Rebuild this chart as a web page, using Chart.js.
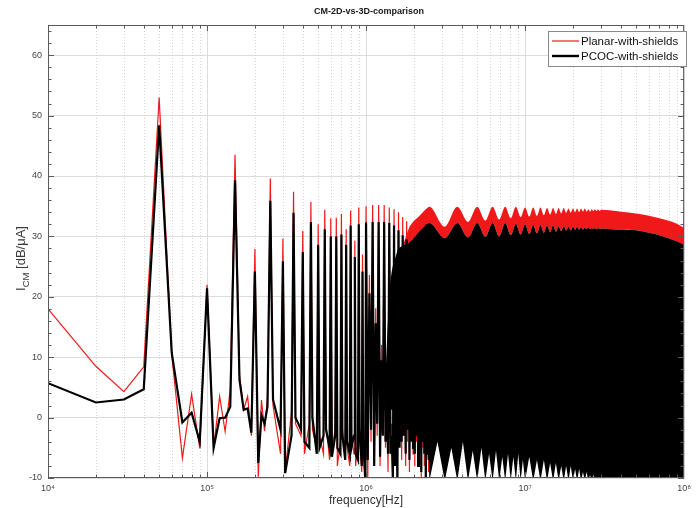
<!DOCTYPE html>
<html>
<head>
<meta charset="utf-8">
<script src="https://cdn.jsdelivr.net/npm/chart.js@4.4.1/dist/chart.umd.min.js"></script>
<style>
  html, body { margin: 0; padding: 0; background: #fff; }
  #wrap { width: 696px; height: 508px; }
</style>
</head>
<body>
<div id="wrap"><canvas id="chart" width="696" height="508"></canvas></div>
<script>
// harmonic part, frequency in kHz (peaks every 50 kHz, lows in between)
const lowFreqKHz = [
  10, 20, 30, 40, 50, 60, 70, 80, 90, 100, 110, 120, 130, 140, 150, 160, 170, 180, 190, 200, 210, 220, 230, 240,
  250, 260, 290, 300, 310, 340, 350, 360, 390, 400, 410, 440, 450, 460, 490, 500, 510, 540,
  550, 560, 590, 600, 610, 640, 650, 660, 690, 700, 710, 740, 750, 760, 790, 800, 810, 840,
  850, 860, 890, 900, 910, 940, 950, 960, 990, 1000,
  1025, 1050, 1075, 1100, 1125, 1150, 1175, 1200, 1225, 1250, 1275, 1300, 1325, 1350, 1375, 1400,
  1425, 1450, 1475, 1500, 1525, 1550, 1575, 1600, 1625, 1650, 1675, 1700, 1725, 1750, 1775, 1800,
  1825, 1850, 1875, 1900, 1925, 1950, 1975, 2000, 2025, 2050, 2075, 2100, 2125, 2150, 2175, 2200,
  2225, 2250, 2275, 2300, 2325, 2350, 2375, 2400, 2425, 2450, 2475, 2500
];
const planarLow = [
  18, 8.5, 4.3, 8.4, 53, 10.5, -6.7, 3.9, -5.1, 22, -5, 3.5, -2.3, 4.6, 43.5, 7, 1.3, 3.5, -3, 27.9, -9.8, 2.9, -2.2, 3.3,
  39.6, 2, -6, 29.6, -9, 1, 37.4, -1, -3, 30.9, -6, -1, 35.7, -2, -5, 32, -3, -6,
  34.4, -1, -7, 33, -5, -2, 33.1, -8, -4, 33.7, -2, -6, 31.2, -5, -8, 34.3, -3, -6,
  29.3, -8, -4, 34.8, -3, -9, 27, -5, -10.5, 35,
  -10.5, 23.6, -4, 35.2, -7, 18.1, -3, 35.2, -8, 12, -2, 35.2, -5, 5, -9, 34.8,
  -4, -1, -10.5, 34.5, -6, 4, -10.5, 34, -3, 11, -7, 33.2, -2, 17, -8, 32.5,
  -4, 22, -9, 31.8, -3, 26, -6, 31.2, -8, 29, -4, 31, -7, 31, -3, 32,
  -10.5, 33, -5, 33.5, -8, 34, -10.5, 34.5, -4, 34.7, -9, 34.8
];
const pcocLow = [
  5.7, 2.5, 3, 4.7, 48.4, 10.7, -0.8, 0.8, -4, 21.4, -5, -0.1, 0, 1.8, 39.3, 6.3, 1.3, 1.5, -2.5, 24.2, -7.5, 0.4, -1, 1.8,
  35.9, 3, -2, 25.9, -9.2, -3, 33.9, 0, -2, 27.4, -4, -5, 32.4, 0, -6, 28.6, -5, -3,
  31.2, -2, -5, 30, -6.5, -3, 30, -5, -6, 30.3, -3, -7, 28.6, -4, -6, 31.8, -5, -3,
  26.6, -6, -7, 32, -2, -8, 24.2, -4, -10.5, 32.3,
  -7, 20.6, -2, 32.4, -8, 15.6, -1, 32.4, -6.5, 9.5, -3, 32.4, -4, 2.5, -6, 32.2,
  -6, -3, -10.5, 31.8, -8, 1.5, -10.5, 31, -5, 8.5, -4, 30.2, -3, 14.5, -6, 29.5,
  -2, 19.5, -7, 28.8, -4, 23.5, -5, 28.5, -6, 26, -3, 28, -8, 28.5, -5, 29.5,
  -9, 30.5, -4, 31, -6, 31.5, -10.5, 32, -6, 32, -7, 32.2
];

// dense part, frequency in MHz: upper envelopes of both traces
const envFreqMHz = [
  1.3, 1.4, 1.55, 1.7, 1.875, 2.2, 2.45,
  2.5, 3.125, 3.75, 4.375, 5, 5.625, 6.25, 6.875, 7.5, 8.125, 8.75, 9.375, 10, 10.625, 11.25, 11.875,
  12.5, 13.125, 13.75, 14.375, 15, 15.625, 16.25, 16.875, 17.5, 18.125, 18.75, 19.375, 20, 20.625,
  21.25, 21.875, 22.5, 23.125, 23.75, 24.375, 25, 25.625, 26.25, 26.875, 27.5, 28.125, 28.75, 29.375, 30,
  35, 40, 50, 60, 70, 80, 90, 100
];
const planarTop = [
  1.3, 20, 27, 28.5, 31.5, 33.6, 34.8,
  34.9, 31.6, 34.9, 32.4, 34.9, 32.6, 34.9, 32.8, 34.9, 33, 34.9, 33.2, 34.8, 33.3, 34.8, 33.4,
  34.8, 33.5, 34.7, 33.6, 34.7, 33.7, 34.7, 33.8, 34.7, 33.9, 34.6, 33.9, 34.6, 34,
  34.6, 34, 34.6, 34.1, 34.6, 34.1, 34.5, 34.1, 34.5, 34.2, 34.5, 34.2, 34.5, 34.2, 34.4,
  34.3, 34.1, 33.8, 33.4, 33, 32.6, 32.1, 31.4
];
const pcocTop = [
  1.3, 20, 27, 28.5, 29, 31, 32.1,
  32.2, 29.7, 32.2, 29.8, 32.2, 29.9, 32.2, 30, 32.2, 30.2, 32.1, 30.3, 32, 30.4, 31.9, 30.5,
  31.9, 30.6, 31.8, 30.7, 31.8, 30.8, 31.7, 30.9, 31.7, 31, 31.6, 31, 31.6, 31.1,
  31.6, 31.1, 31.5, 31.1, 31.5, 31.2, 31.5, 31.2, 31.4, 31.2, 31.4, 31.2, 31.4, 31.2, 31.3,
  31.2, 31.1, 31, 30.6, 30.2, 29.7, 29.2, 28.6
];
// lower edge of the black band, MHz
const bottomFreqMHz = [
  1.3, 2.45, 2.5,
  2.8125, 3.125, 3.4375, 3.75, 4.0625, 4.375, 4.6875, 5, 5.3125, 5.625, 5.9375, 6.25,
  6.5625, 6.875, 7.1875, 7.5, 7.8125, 8.125, 8.4375, 8.75, 9.0625, 9.375, 9.6875, 10,
  10.625, 11.25, 11.875, 12.5, 13.125, 13.75, 14.375, 15, 15.625, 16.25, 16.875, 17.5, 18.125, 18.75,
  19.375, 20, 20.625, 21.25, 21.875, 22.5, 23.125, 23.75, 24.375, 25, 25.625, 26.25, 26.875, 27.5,
  30, 100
];
const pcocBottom = [
  1.3, 1.3, -10.5,
  -4, -10.5, -5, -10.5, -4, -10.5, -5.5, -10.5, -5, -10.5, -6, -10.5,
  -5.5, -10.5, -6.5, -10.5, -6, -10.5, -6.5, -10.5, -6, -10.5, -7, -10.5,
  -6.5, -10.5, -7, -10.5, -7, -10.5, -7.5, -10.5, -7.5, -10.5, -8, -10.5, -8, -10.5,
  -8, -10.5, -8.5, -10.5, -8.5, -10.5, -9, -10.5, -9, -10.5, -9.5, -10.5, -9.5, -10.5,
  -10.5, -10.5
];

const decadeTicks = [1e4, 1e5, 1e6, 1e7, 1e8];
const decadeLabels = ['10⁴', '10⁵', '10⁶', '10⁷', '10⁸'];

const RED = '#f01818';
const BLACK = '#000000';
const FONT = '"Liberation Sans", Arial, sans-serif';

const toPoints = (freqs, scale, vals) => freqs.map((f, i) => ({ x: f * scale, y: vals[i] }));

// MATLAB-like frame: dotted minor grid, inward ticks, title, legend, y label
const framePlugin = {
  id: 'frame',
  beforeDatasetsDraw(chart) {
    const { ctx, chartArea: a, scales: { x } } = chart;
    ctx.save();
    ctx.strokeStyle = '#d4d4d4';
    ctx.lineWidth = 1;
    ctx.setLineDash([1, 2]);
    for (let d = 4; d < 8; d++) {
      for (let m = 2; m <= 9; m++) {
        const px = Math.round(x.getPixelForValue(m * Math.pow(10, d))) + 0.5;
        ctx.beginPath();
        ctx.moveTo(px, a.top);
        ctx.lineTo(px, a.bottom);
        ctx.stroke();
      }
    }
    ctx.restore();
  },
  afterDraw(chart) {
    const { ctx, chartArea: a, scales: { x, y } } = chart;
    ctx.save();
    ctx.strokeStyle = '#5a5a5a';
    ctx.lineWidth = 1;
    ctx.strokeRect(a.left + 0.5, a.top + 0.5, a.right - a.left - 1, a.bottom - a.top - 1);

    const seg = (x1, y1, x2, y2) => { ctx.beginPath(); ctx.moveTo(x1, y1); ctx.lineTo(x2, y2); ctx.stroke(); };
    for (let d = 4; d < 8; d++) {
      for (let m = 1; m <= 9; m++) {
        const px = Math.round(x.getPixelForValue(m * Math.pow(10, d))) + 0.5;
        const len = m === 1 ? 6 : 3.5;
        seg(px, a.bottom, px, a.bottom - len);
        seg(px, a.top, px, a.top + len);
      }
    }
    for (let v = -10; v <= 64; v += 2) {
      const py = Math.round(y.getPixelForValue(v)) + 0.5;
      const len = v % 10 === 0 ? 6 : 3.5;
      seg(a.left, py, a.left + len, py);
      seg(a.right, py, a.right - len, py);
    }

    // title
    ctx.fillStyle = '#1a1a1a';
    ctx.font = 'bold 9px ' + FONT;
    ctx.textAlign = 'center';
    ctx.textBaseline = 'middle';
    ctx.fillText('CM-2D-vs-3D-comparison', (a.left + a.right) / 2 + 3, 12);

    // y axis label with subscript
    ctx.save();
    ctx.translate(25, (a.top + a.bottom) / 2 + 7);
    ctx.rotate(-Math.PI / 2);
    ctx.textAlign = 'left';
    ctx.textBaseline = 'alphabetic';
    ctx.fillStyle = '#3a3a3a';
    const big = '13px ' + FONT, small = '9.5px ' + FONT;
    ctx.font = big; const w1 = ctx.measureText('I').width;
    ctx.font = small; const w2 = ctx.measureText('CM').width;
    ctx.font = big; const w3 = ctx.measureText(' [dB/μA]').width;
    let cx = -(w1 + w2 + w3) / 2;
    ctx.font = big; ctx.fillText('I', cx, 0); cx += w1;
    ctx.font = small; ctx.fillText('CM', cx, 3.5); cx += w2;
    ctx.font = big; ctx.fillText(' [dB/μA]', cx, 0);
    ctx.restore();

    // legend
    const lx = 548, ly = 31, lw = 138, lh = 35;
    ctx.fillStyle = '#fff';
    ctx.fillRect(lx, ly, lw, lh);
    ctx.strokeStyle = '#8a8a8a';
    ctx.strokeRect(lx + 0.5, ly + 0.5, lw, lh);
    const entries = [
      { label: 'Planar-with-shields', color: RED, width: 1.2, yy: ly + 10 },
      { label: 'PCOC-with-shields', color: BLACK, width: 2.4, yy: ly + 25 }
    ];
    ctx.font = '11.5px ' + FONT;
    ctx.textAlign = 'left';
    ctx.textBaseline = 'middle';
    entries.forEach(e => {
      ctx.strokeStyle = e.color;
      ctx.lineWidth = e.width;
      seg(lx + 4, e.yy, lx + 31, e.yy);
      ctx.fillStyle = '#111';
      ctx.fillText(e.label, lx + 33, e.yy + 0.5);
    });
    ctx.restore();
  }
};

new Chart(document.getElementById('chart'), {
  type: 'line',
  data: {
    datasets: [
      {
        label: 'Planar-with-shields',
        data: toPoints(lowFreqKHz, 1e3, planarLow),
        borderColor: RED,
        borderWidth: 1.2,
        pointRadius: 0,
        tension: 0,
        fill: false,
        order: 4
      },
      {
        label: 'planar-envelope',
        data: toPoints(envFreqMHz, 1e6, planarTop),
        borderColor: RED,
        borderWidth: 0,
        backgroundColor: RED,
        pointRadius: 0,
        cubicInterpolationMode: 'monotone',
        fill: '+1',
        order: 3
      },
      {
        label: 'pcoc-envelope',
        data: toPoints(envFreqMHz, 1e6, pcocTop),
        borderColor: BLACK,
        borderWidth: 0,
        backgroundColor: BLACK,
        pointRadius: 0,
        cubicInterpolationMode: 'monotone',
        fill: '+1',
        order: 2
      },
      {
        label: 'pcoc-bottom',
        data: toPoints(bottomFreqMHz, 1e6, pcocBottom),
        borderColor: BLACK,
        borderWidth: 0,
        pointRadius: 0,
        tension: 0,
        fill: false,
        order: 2
      },
      {
        label: 'PCOC-with-shields',
        data: toPoints(lowFreqKHz, 1e3, pcocLow),
        borderColor: BLACK,
        borderWidth: 2.2,
        pointRadius: 0,
        tension: 0,
        fill: false,
        order: 1
      }
    ]
  },
  options: {
    responsive: false,
    animation: false,
    events: [],
    layout: { padding: { top: 25, right: 6, left: 0, bottom: 0 } },
    plugins: {
      legend: { display: false },
      tooltip: { enabled: false },
      title: { display: false }
    },
    scales: {
      x: {
        type: 'logarithmic',
        min: 1e4,
        max: 1e8,
        afterFit: s => { s.height = 30; },
        afterBuildTicks: s => { s.ticks = decadeTicks.map(v => ({ value: v })); },
        ticks: {
          autoSkip: false,
          maxRotation: 0,
          padding: 5,
          color: '#444',
          font: { size: 9, family: FONT },
          callback: v => decadeLabels[decadeTicks.indexOf(v)] || ''
        },
        grid: { color: '#dcdcdc', drawTicks: false },
        border: { display: false },
        title: {
          display: true,
          text: 'frequency[Hz]',
          color: '#333',
          font: { size: 12, family: FONT },
          padding: { top: 0, bottom: 0 }
        }
      },
      y: {
        min: -10,
        max: 65,
        afterFit: s => { s.width = 48; },
        ticks: {
          stepSize: 10,
          padding: 6,
          color: '#444',
          font: { size: 9, family: FONT },
          callback: v => (v === 65 ? '' : v)
        },
        grid: { color: '#dcdcdc', drawTicks: false },
        border: { display: false }
      }
    }
  },
  plugins: [framePlugin]
});
</script>
</body>
</html>
